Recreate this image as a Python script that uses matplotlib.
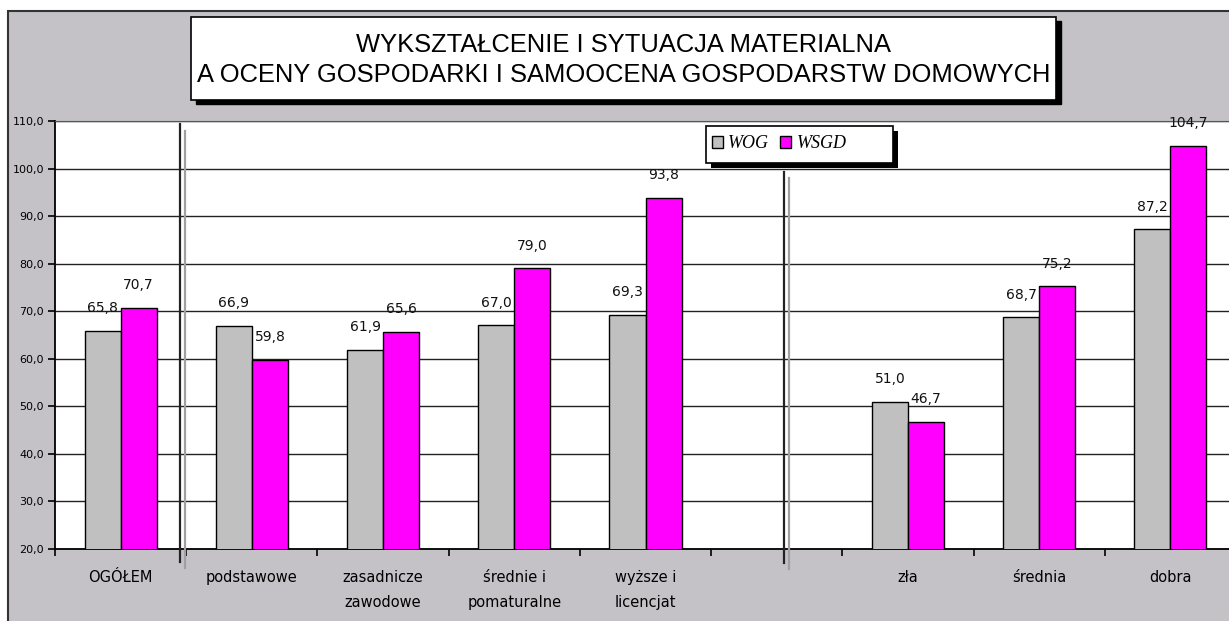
import numpy as np
import matplotlib
matplotlib.use('Agg')
from matplotlib import pyplot as plt
from matplotlib.patches import Rectangle, Patch
from matplotlib.lines import Line2D

categories = ['OGÓŁEM', 'podstawowe', 'zasadnicze\nzawodowe', 'średnie i\npomaturalne',
              'wyższe i\nlicencjat', '', 'zła', 'średnia', 'dobra']
wog = [65.8, 66.9, 61.9, 67.0, 69.3, np.nan, 51.0, 68.7, 87.2]
wsgd = [70.7, 59.8, 65.6, 79.0, 93.8, np.nan, 46.7, 75.2, 104.7]
yticks = [20, 30, 40, 50, 60, 70, 80, 90, 100, 110]

W, H = 1229, 621
bg = '#c4c2c7'
grey = '#c0c0c0'
magenta = '#ff00ff'


def fx(x):
    return x / W


def fy(y):
    return 1 - y / H


fig = plt.figure(figsize=(W / 100, H / 100), dpi=100, facecolor='white')

# grey chart area with dark frame
frame = Rectangle((fx(8), -0.1), 1.2, fy(11) + 0.1, transform=fig.transFigure,
                  facecolor=bg, edgecolor='#333333', lw=1.5, zorder=-2)
fig.add_artist(frame)

ax = fig.add_axes([fx(55), fy(549), (1236 - 55) / W, (549 - 121) / H])
ax.set_facecolor('white')

x = np.arange(len(categories))
w = 0.275
ax.bar(x - w / 2, wog, w, color=grey, edgecolor='black', lw=1, zorder=3)
ax.bar(x + w / 2, wsgd, w, color=magenta, edgecolor='black', lw=1, zorder=3)

for xs, vals in ((x - w / 2, wog), (x + w / 2, wsgd)):
    for xi, v in zip(xs, vals):
        if np.isnan(v):
            continue
        ax.annotate(f'{v:.1f}'.replace('.', ','), (xi, v), xytext=(0, 13.5),
                    textcoords='offset points', ha='center', va='baseline',
                    fontsize=10, color='#111111', zorder=4)

ax.set_xlim(-0.5, len(categories) - 0.5)
ax.set_ylim(20, 110)
ax.set_yticks(yticks)
ax.set_yticklabels([f'{t:.1f}'.replace('.', ',') for t in yticks], fontsize=8)
ax.yaxis.grid(True, color='#222222', lw=1.0, zorder=1)
ax.set_axisbelow(True)

ax.set_xticks(x)
ax.set_xticklabels(categories, fontsize=10.5, linespacing=1.85)
ax.set_xticks(np.arange(len(categories) + 1) - 0.5, minor=True)
ax.tick_params(axis='x', which='major', length=0, pad=15)
ax.tick_params(axis='x', which='minor', length=5, width=1.2, direction='out')
ax.tick_params(axis='y', length=5, width=1.2, direction='out', pad=3)

for s in ('left', 'bottom'):
    ax.spines[s].set_color('black')
    ax.spines[s].set_linewidth(1.3)
ax.spines['top'].set_color('#555555')
ax.spines['right'].set_visible(False)

# group separators
for xd, xl, yd0, yl0, yd1, yl1 in ((180, 185, 124, 131, 562, 568),
                                   (784, 789, 172, 178, 563, 569)):
    fig.add_artist(Line2D([fx(xd), fx(xd)], [fy(yd0), fy(yd1)], color='#222222', lw=1.6,
                          transform=fig.transFigure, zorder=5))
    fig.add_artist(Line2D([fx(xl), fx(xl)], [fy(yl0), fy(yl1)], color='#a0a0a0', lw=1.6,
                          transform=fig.transFigure, zorder=5))

# title box with shadow
fig.add_artist(Rectangle((fx(196), fy(104)), (1056 - 191) / W, (100 - 17) / H,
                         transform=fig.transFigure, facecolor='black', edgecolor='black', zorder=6))
fig.add_artist(Rectangle((fx(191), fy(100)), (1056 - 191) / W, (100 - 17) / H,
                         transform=fig.transFigure, facecolor='white', edgecolor='black',
                         lw=1.2, zorder=7))
tfont = ['Liberation Sans', 'DejaVu Sans']
fig.text(fx(624), fy(45), 'WYKSZTAŁCENIE I SYTUACJA MATERIALNA', ha='center', va='center',
         fontsize=18.4, family=tfont, zorder=8)
fig.text(fx(624), fy(75), 'A OCENY GOSPODARKI I SAMOOCENA GOSPODARSTW DOMOWYCH', ha='center',
         va='center', fontsize=18.4, family=tfont, zorder=8)

# legend with shadow
fig.add_artist(Rectangle((fx(711), fy(168)), (893 - 706) / W, (163 - 126) / H,
                         transform=fig.transFigure, facecolor='black', zorder=6))
fig.add_artist(Rectangle((fx(706), fy(163)), (893 - 706) / W, (163 - 126) / H,
                         transform=fig.transFigure, facecolor='white', edgecolor='black',
                         lw=1.2, zorder=7))
handles = [Patch(facecolor=grey, edgecolor='black'), Patch(facecolor=magenta, edgecolor='black')]
leg = fig.legend(handles, ['WOG', 'WSGD'], loc='center left', bbox_to_anchor=(fx(712), fy(144)),
                 ncol=2, frameon=False, borderpad=0, borderaxespad=0, handlelength=0.6,
                 handleheight=0.6, handletextpad=0.3, columnspacing=0.6,
                 prop={'family': 'Liberation Serif', 'style': 'italic', 'size': 13})
leg.set_zorder(8)

fig.savefig('out.png', dpi=100, facecolor='white')
